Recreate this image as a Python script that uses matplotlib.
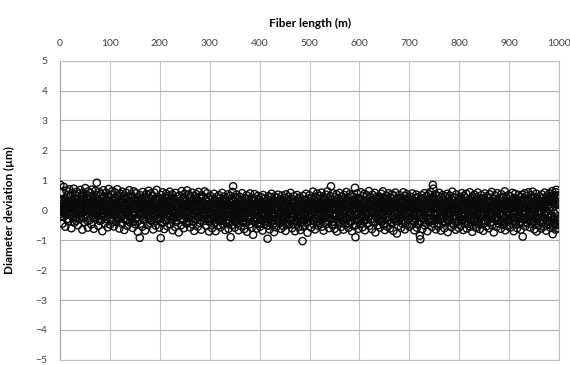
import numpy as np
import matplotlib
matplotlib.use("Agg")
import matplotlib.pyplot as plt

# diameter deviation, hundredths of a micron
# pass A: readings at whole metres
dev_0_99 = [
    12, 85, -20, 35, 60, -45, 22, 5, 78, -10, 40, -55, 18, 66, -30, 8, 52, -38, 28, 70,
    -15, 45, 3, -60, 33, 58, -25, 14, 72, -42, 25, 50, -8, -35, 62, 19, -50, 38, 9, 55,
    -28, 68, 30, -12, 47, -65, 21, 59, -5, 36, -40, 74, 11, -22, 48, 27, -58, 63, 2, 41,
    -33, 57, 16, -47, 69, 24, -18, 44, -62, 31, 7, 65, -26, 50, 92, -9, 37, -52, 20, 61,
    -36, 13, 54, -20, 39, -70, 26, 67, -3, 46, -44, 18, 58, -29, 34, 6, -57, 43, 71, -14,
]
dev_100_299 = [
    29, -48, 52, 10, -31, 64, -16, 37, -54, 23, 60, -7, 41, -39, 15, 70, -25, 48, 1, -61,
    35, 55, -21, 12, -45, 62, 27, -11, 49, -66, 19, 38, -34, 58, 4, -52, 44, 24, -17, 67,
    -40, 31, 8, 53, -28, 46, -59, 17, 63, -9, 39, -47, 22, 57, -23, 11, -72, 42, 30, -4,
    -92, 50, -19, 36, 14, -55, 61, -32, 26, 45, -13, -68, 33, 54, -6, 20, -49, 40, 65, -27,
    18, -43, 56, 3, -37, 47, 28, -64, 9, 59, -15, 34, -51, 25, 68, -8, 43, -30, 13, -58,
    37, -24, -93, 51, 16, -41, 60, -12, 29, -63, 44, 6, -35, 55, 21, -53, 39, -2, 48, -20,
    62, -46, 10, 35, -29, 53, -67, 24, 41, -10, 17, -56, 58, 32, -38, 5, 46, -22, -74, 27,
    49, -14, 30, -50, 64, 12, -33, 42, -60, 20, 55, -5, 38, -44, 15, 66, -26, 2, 52, -39,
    23, -57, 44, 7, -18, 59, -48, 31, 11, -69, 47, 26, -31, 54, -1, 36, -55, 18, 61, -23,
    -42, 40, 13, -65, 50, 28, -9, 45, -36, 19, 63, -17, 34, -52, 8, 57, -28, 42, -6, -71,
]
dev_300_499 = [
    22, -38, 47, -15, 3, -60, 38, 14, -45, 55, -24, 9, -70, 32, 44, -11, -52, 26, -33, 50,
    -8, 41, -57, 17, -27, 58, 5, -48, 30, -19, 46, -66, 12, 35, -40, 21, -4, 53, -62, 28,
    -35, 48, -90, -12, 39, -50, 61, 80, -22, 15, -58, 43, 6, -31, 52, -44, 18, 36, -67, 1,
    45, -26, 10, -53, 33, 57, -14, -41, 24, -63, 40, -5, 29, -36, 50, -72, 16, 38, -20, 7,
    -47, 56, -29, 20, -59, 42, -10, -82, 31, -37, 54, 11, -24, 37, -61, 25, -3, 48, -43, 14,
    35, -55, 2, 44, -32, 19, -68, 51, -16, 27, -46, 39, 8, -38, 30, -51, -95, 22, 47, -21,
    -64, 13, 43, -28, 55, -9, -49, 34, 17, -73, 46, -18, 26, -57, 6, 41, -35, 52, -12, 20,
    -44, 37, -2, -62, 28, 49, -26, 12, -54, 40, -15, 23, -69, 53, 4, -39, 31, -8, 45, -48,
    16, -33, 58, -22, 9, -60, 36, 25, -45, 47, -11, -70, 29, 14, -37, 51, -27, 38, -56, 3,
    42, -19, -66, 32, -40, 20, -103, 48, -30, 11, -52, 35, -6, 55, -43, 24, -75, 39, 7, -25,
]
dev_500_699 = [
    50, -36, 18, -58, 41, 27, -13, 62, -47, 33, -2, -64, 45, 10, -29, 56, -51, 22, 38, -17,
    -42, 48, 6, -33, 59, -55, 25, 14, -68, 43, -8, 36, -24, 52, -46, 19, 63, -14, 30, -60,
    11, 47, -27, 80, 35, -49, 21, 57, -38, 4, -62, 44, 28, -19, 53, -71, 15, 39, -5, -44,
    58, -23, 32, -56, 12, 46, -35, 24, -65, 51, -1, 37, -48, 19, 61, -30, 7, 42, -59, 26,
    -12, 54, -40, 16, 49, -70, 33, -21, 45, -53, 9, 75, -90, 28, -34, 56, -15, 40, -62, 20,
    38, -46, 13, 60, -28, 3, -57, 47, 24, -37, 55, -67, 17, 34, -10, 50, -43, 29, -20, 64,
    -52, 21, 43, -31, 8, -63, 52, 15, -41, 36, -6, 58, -74, 27, 45, -25, 11, -50, 39, -16,
    46, -58, 30, -11, 55, -39, 18, 63, -47, 5, 41, -66, 25, -22, 49, -54, 37, 12, -33, 57,
    -3, -61, 44, 20, -44, 53, -18, 31, -69, 48, -27, 14, 59, -36, 23, -78, 40, 6, -52, 35,
    51, -24, 10, -59, 42, 28, -45, 17, 60, -32, 2, -64, 47, 34, -14, 54, -49, 21, -7, 39,
]
dev_700_999 = [
    -55, 26, 45, -20, 12, -48, 56, 33, -37, 8, -67, 41, 19, -29, 52, -58, 30, -9, 44, -42,
    24, -85, -97, 37, -15, 50, -63, 14, 40, -34, 57, -51, 6, 28, -22, 48, -70, 35, -5, 53,
    -40, 18, 61, -27, 32, -56, 43, 85, 72, -46, 22, -14, 54, -64, 38, 9, -31, 47, -53, 15,
    58, -19, 26, -68, 44, 3, -39, 51, -25, 34, -60, 12, 46, -44, 20, -8, 55, -73, 29, 40,
    -33, 49, -11, 17, -57, 36, 62, -28, 5, -49, 42, -18, 25, -65, 53, 13, -41, 31, -2, -59,
    45, -24, 38, -52, 10, 57, -36, 21, -66, 48, 16, -30, 42, -13, 55, -61, 27, 4, -45, 35,
    -21, 60, -55, 23, 39, -7, -72, 46, 14, -38, 52, -26, 31, -58, 18, 44, -16, 59, -47, 8,
    36, -63, 25, -12, 50, -43, 11, 40, -69, 29, -4, 56, -35, 20, -54, 47, 1, -28, 43, -60,
    15, 53, -41, 32, -19, 61, -50, 7, 38, -74, 24, -10, 49, -32, 16, -56, 57, -23, 34, -45,
    42, -14, 27, -62, 54, -37, 19, 9, -48, 45, -25, 63, -67, 30, -6, 39, -52, 22, 50, -34,
    -18, 47, -58, 33, 12, -44, 58, -27, 24, -70, 41, -3, 55, -39, 17, 36, -60, 28, -12, 51,
    -47, 20, 44, -65, 31, -22, 52, -88, 14, 39, -31, 57, -54, 26, -9, 48, -42, 10, 60, -29,
    35, -57, 18, -15, 50, -46, 23, 62, -36, 4, -64, 43, 29, -24, 55, -71, 13, 37, -50, 21,
    -8, 46, -40, 30, -61, 53, 16, -33, 41, -55, 9, 59, -28, 25, -68, 45, -17, 34, -48, 19,
    56, -37, 12, -59, 40, -22, 64, -80, 27, -45, 50, -12, 33, -65, 68, 45, 20, -5, -35, -60,
]
# pass B: readings at half metres
half_0_299 = [
    5, -12, 20, 31, 8, -4, 15, -22, 27, 10, -8, 18, 36, 2, -15, 24, 12, -30, 6, 19,
    28, 14, -6, -18, 22, 9, 33, -10, 4, 17, 40, -2, -25, 13, 26, 7, -14, 21, 30, -5,
    11, -20, 3, 25, 38, -9, 16, 6, -27, 12, 29, 1, -13, 23, 8, -35, 18, 34, -3, 10,
    20, -7, 44, 15, -16, 9, 27, -24, 5, 32, 13, -11, 19, 2, 37, -19, 24, 7, -29, 14,
    -4, 26, 11, -33, 18, 41, 3, -12, 22, 8, -21, 30, 16, -6, 35, -15, 12, 28, -9, 4,
    18, -26, 7, 24, -10, 13, -38, 21, 2, -17, 30, 9, -5, 26, -22, 15, 4, -31, 19, 11,
    -8, 27, -14, 3, 35, -20, 10, 22, -28, 6, 16, -12, 39, -3, 25, -34, 8, 14, -18, 31,
    1, -23, 17, 29, -9, 12, -40, 5, 24, -15, 33, -6, 10, -27, 20, 2, -36, 18, 7, -11,
    23, -45, 9, -19, 28, 4, -13, 16, -30, 21, 11, -7, 34, -24, 6, 19, -16, 27, -2, 13,
    -32, 8, 25, -11, 15, -21, 3, 30, -37, 12, -4, 22, -18, 9, 36, -26, 14, 1, -14, 24,
    7, -29, 19, 11, -42, 5, 26, -9, 16, -23, 31, -2, 13, -35, 21, 8, -12, 28, -20, 4,
    17, -15, 33, -6, 10, -31, 22, 3, -19, 27, -10, 14, -39, 18, 6, -24, 29, -3, 12, -17,
    25, -8, 2, -27, 20, 36, -13, 9, -33, 15, 7, -21, 30, -5, 11, -44, 19, 24, -11, 1,
    -18, 13, 28, -25, 6, 17, -37, 10, 23, -14, 4, -30, 21, 32, -7, 15, -22, 8, 26, -3,
    12, -34, 18, 5, -16, 29, -10, 22, -28, 3, 14, -20, 37, -12, 9, -26, 20, 11, -38, 16,
]
half_300_699 = [
    -5, 21, -17, 8, -30, 14, 27, -22, 4, -12, 19, -40, 10, 25, -8, -28, 16, 2, -19, 30,
    -13, 7, 23, -35, 12, -4, 20, -26, 9, 28, -16, 1, -32, 15, -9, 24, -21, 6, -44, 18,
    3, -24, 13, -11, 29, -18, 8, 33, -29, -6, 17, -38, 11, 22, -15, 5, -27, 19, -3, -33,
    14, -20, 26, -9, 2, -36, 16, -14, 10, 24, -25, 7, -41, 19, -6, 13, -30, 21, 4, -17,
    -28, 11, 3, -22, 18, -12, 31, -34, 8, -5, 15, -27, 23, -10, 1, -46, 20, 12, -19, 9,
    16, -31, 6, -14, 25, -23, 10, -7, 21, -38, 13, 2, -18, 28, -26, 7, -52, 15, -9, 19,
    -24, 4, 22, -16, 11, -33, 17, -8, 27, -21, 5, -43, 14, 9, -29, 20, -12, 3, -36, 24,
    -10, 15, -27, 8, 30, -19, 2, -35, 18, -6, 12, -24, 26, -15, 7, -48, 21, -3, 10, -30,
    19, -13, 6, -37, 23, -9, 14, -25, 3, 28, -17, 9, -32, 16, -4, 22, -40, 11, -20, 5,
    -14, 25, -29, 10, -6, 18, -55, 13, -22, 7, -34, 20, -11, 4, -27, 15, -39, 9, -16, 24,
    8, -21, 30, -12, 3, 17, -33, 22, -7, 12, -26, 5, 27, -15, 10, -38, 19, 2, -20, 14,
    -30, 11, 24, -9, 16, -28, 6, 35, -18, 1, -41, 20, 9, -13, 28, -24, 4, 15, -36, 12,
    23, -5, 18, -31, 10, 26, -17, 7, -46, 14, 2, -22, 32, -11, 19, -29, 8, -3, 21, -39,
    13, -16, 4, 27, -25, 9, -8, 20, -34, 16, 29, -12, 3, -27, 22, -6, 11, -44, 17, 6,
    -19, 25, -10, 14, -37, 8, 21, -23, 1, 31, -15, 10, -50, 18, -4, 24, -28, 13, -9, 16,
    5, -26, 20, -13, 34, -20, 7, -35, 15, 2, -11, 26, -30, 12, -5, 19, -42, 9, 23, -17,
    -8, 14, -32, 21, -3, 11, -27, 29, -14, 6, -38, 17, 25, -21, 8, -10, 33, -24, 4, -15,
    22, -36, 12, -7, 27, -18, 3, -29, 16, 10, -45, 20, -12, 5, 30, -25, 14, -2, -33, 18,
    9, -14, 24, -40, 6, 19, -22, 13, -31, 28, -9, 1, -26, 17, 11, -35, 21, -6, 14, -28,
    26, -11, 4, -24, 32, -16, 9, -37, 18, 2, -20, 12, -43, 23, -7, 15, -30, 10, -13, 20,
]
half_700_999 = [
    -26, 13, 21, -9, 5, -32, 17, 28, -15, 2, -39, 19, 8, -21, 25, -12, 11, -47, 14, 6,
    -18, 23, -35, 10, -4, 29, -27, 16, 3, -14, 20, -41, 12, 7, -24, 31, -10, 18, -33, 9,
    15, -20, 26, -7, 11, -36, 22, 38, 4, -17, 13, -29, 8, 24, -12, 19, -44, 6, -23, 27,
    -2, 17, -31, 12, 30, -19, 5, -26, 21, -9, 14, -38, 9, 25, -16, 3, -34, 20, -6, 11,
    -24, 28, -13, 7, -42, 18, 10, -22, 33, -5, 15, -30, 2, 22, -18, 12, -37, 26, -11, 4,
    19, -27, 8, -15, 24, -33, 14, 3, -21, 29, -8, 11, -45, 17, -3, 23, -28, 9, -16, 30,
    -12, 21, -38, 5, 16, -24, 27, -9, 13, -31, 1, 20, -19, 34, -14, 8, -40, 15, -6, 25,
    10, -29, 18, -4, 23, -36, 12, -17, 28, -10, 6, -43, 19, 2, -25, 31, -13, 16, -33, 7,
    -20, 26, -11, 14, -39, 9, 22, -15, 4, -28, 17, -7, 30, -23, 11, -35, 24, -2, 13, -30,
    18, -8, 25, -32, 6, -19, 29, -13, 10, -41, 21, 3, -24, 15, -5, 27, -37, 12, -16, 22,
    -14, 9, -27, 20, 33, -22, 7, -11, 26, -34, 13, -3, 18, -46, 10, 24, -18, 5, -29, 16,
    4, -23, 17, -38, 28, -9, 12, -30, 21, -15, 8, -26, 31, -4, 15, -43, 19, 2, -20, 27,
    -11, 14, -35, 22, -6, 18, -28, 10, 3, -40, 24, -13, 29, -19, 7, -32, 16, -8, 21, -25,
    13, -37, 20, -10, 26, -21, 5, -44, 15, 30, -16, 9, -27, 23, -2, 12, -34, 18, -12, 28,
    35, -25, 48, -18, 55, -40, 30, -52, 22, 42, -30, 15, -45, 60, 25, -50, 38, -20, 50, -35,
]

dev_a = np.array(dev_0_99 + dev_100_299 + dev_300_499 + dev_500_699 + dev_700_999) / 100.0
dev_b = np.array(half_0_299 + half_300_699 + half_700_999) / 100.0
step_m = 1.0
len_a = np.arange(len(dev_a)) * step_m
len_b = len_a[:len(dev_b)] + step_m / 2

length = np.concatenate([len_a, len_b])
deviation = np.concatenate([dev_a, dev_b])

x_ticks = list(range(0, 1001, 100))
y_ticks = list(range(-5, 6))

plt.rcParams['font.family'] = ['Lato', 'DejaVu Sans']

fig = plt.figure(figsize=(5.7, 3.65), dpi=100)
ax = fig.add_axes([0.105, 0.014, 0.876, 0.82])

ax.scatter(length, deviation, s=27, facecolors='none',
           edgecolors='#0a0a0a', linewidths=1.0, zorder=3)

ax.set_xlim(0, 1000)
ax.set_ylim(-5, 5)
ax.set_xticks(x_ticks)
ax.set_yticks(y_ticks)
ax.xaxis.tick_top()
ax.tick_params(axis='both', length=0, labelsize=7.5, colors='#404040')
ax.tick_params(axis='x', pad=9)
ax.tick_params(axis='y', pad=9)

ax.grid(True, axis='y', color='#b0b0b0', linewidth=0.8, zorder=0)
ax.grid(True, axis='x', color='#c8c8c8', linewidth=0.8, zorder=0)
for side in ['left', 'top', 'right', 'bottom']:
    ax.spines[side].set_color('#c0c0c0')
    ax.spines[side].set_linewidth(0.8)
ax.spines['left'].set_color('#a0a0a0')

ax.set_ylabel('Diameter deviation (µm)', fontsize=8.5, fontweight='bold')
ax.yaxis.set_label_coords(-0.09, 0.5)
fig.text(0.543, 0.935, 'Fiber length (m)', ha='center', va='center',
         fontsize=8.5, fontweight='bold')

fig.savefig('out.png', dpi=100)
